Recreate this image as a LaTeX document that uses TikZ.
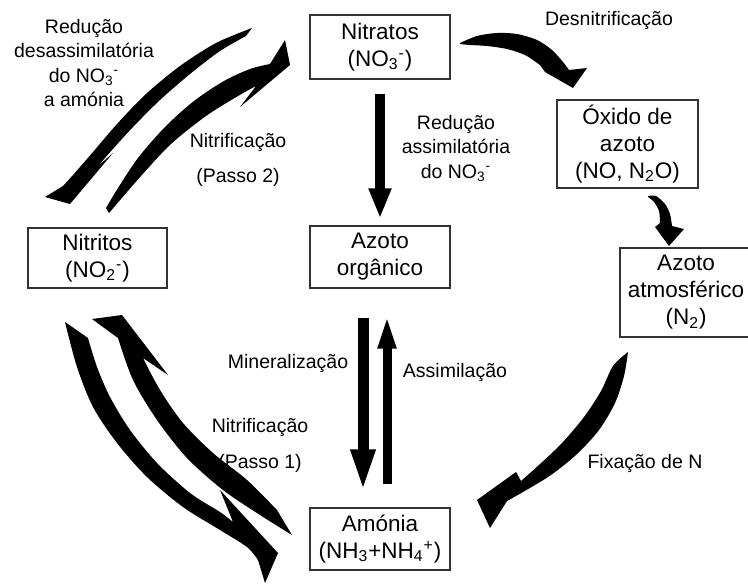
\documentclass[tikz,border=0pt]{standalone}
\usepackage{fontspec}
\setmainfont{Liberation Sans}
\usetikzlibrary{arrows.meta}
\newcommand{\chemsub}[1]{\textsubscript{#1}}
\newcommand{\chemsup}[1]{\textsuperscript{#1}}
\tikzset{
  box/.style={draw=black!80, line width=0.6pt, align=center, inner sep=0pt,
    minimum width=70pt, minimum height=31pt, font=\fontsize{11.25}{13.5}\selectfont},
  lab/.style={align=center, font=\fontsize{9.75}{12.25}\selectfont},
  fat/.style={line width=5pt, -{Triangle[width=10.5pt,length=15pt]}},
  band/.style={fill=black},
}

\begin{document}
\begin{tikzpicture}[x=0.5pt,y=-0.5pt]
  \useasboundingbox (0,0) rectangle (748,584);

  % compartments
  \node[box, minimum height=32pt] (nit) at (380,47) {Nitratos\\(NO\chemsub{3}\chemsup{-})};
  \node[box, minimum width=69.5pt, minimum height=30pt] (ntr) at (97.5,258) {Nitritos\\(NO\chemsub{2}\chemsup{-})};
  \node[box] (org) at (380,257) {Azoto\\orgânico};
  \node[box, minimum width=70.5pt, minimum height=44pt] (oxi) at (627.5,144) {Óxido de\\azoto\\(NO, N\chemsub{2}O)};
  \node[box, minimum width=66pt, minimum height=44.5pt] (atm) at (686,292.5) {Azoto\\atmosférico\\(N\chemsub{2})};
  \node[box] (amo) at (380,539) {Amónia\\(NH\chemsub{3}+NH\chemsub{4}\chemsup{+})};

  % labels
  \node[lab] (desn) at (609,20) {Desnitrificação};
  \node[lab] (redas) at (456,148) {Redução\\assimilatória\\do NO\chemsub{3}\chemsup{-}};
  \node[lab] (reddes) at (84,63) {Redução\\desassimilatória\\do NO\chemsub{3}\chemsup{-}\\a amónia};
  \node[lab] (nitr2) at (238,159.5) {Nitrificação\\[5.25pt](Passo 2)};
  \node[lab] (miner) at (288,363) {Mineralização};
  \node[lab] (assim) at (455,372) {Assimilação};
  \node[lab] (nitr1) at (260,445) {Nitrificação\\[5.75pt](Passo 1)};
  \node[lab] (fix) at (645,463) {Fixação de N};

  % straight arrows
  \draw[fat] ([yshift=-7pt]nit.south) -- ([yshift=3.5pt]org.north);
  \draw[line width=5.5pt, -{Triangle[width=11pt,length=21.5pt]}]
    ([xshift=-8.5pt,yshift=-14.5pt]org.south) -- ([xshift=-8.5pt,yshift=7.5pt]amo.north);
  \draw[line width=4.5pt, -{Triangle[width=8pt,length=18pt]}]
    ([xshift=3.5pt,yshift=11.5pt]amo.north) -- ([xshift=3.5pt,yshift=-12pt]org.south);

  % curved arrows
  % desnitrificacao
  \fill[band] plot[smooth] coordinates {(460,43) (477,36) (497,33) (517,34) (537,40) (552,50) (563,62) (569,70)}
    -- (587,68) -- (573,88) -- (545,72)
    -- plot[smooth] coordinates {(540,65) (525,55) (507,49) (487,46) (470,45) (460,44)} -- cycle;
  % oxido -> N2
  \fill[band] plot[smooth] coordinates {(648,196) (656,196) (665,204) (670,214) (672,226)}
    -- (684,229) -- (669,246) -- (655,227)
    -- plot[smooth] coordinates {(660,223) (659,211) (654,202) (648,197)} -- cycle;
  % fixacao
  \fill[band] plot[smooth] coordinates {(628,352) (624,376) (615,403) (599,430) (577,454) (551,475) (523,492) (507,501)}
    -- (490,528) -- (477,500) -- (516,472) -- (521,481)
    -- plot[smooth] coordinates {(521,481) (540,464) (562,443) (584,417) (601,391) (613,366) (628,352)} -- cycle;
  % reducao desassimilatoria
  \fill[band] plot[smooth] coordinates {(252,28) (216,43) (180,66) (146,94) (117,124) (93,152) (73,175) (63,186)}
    -- (45,197) -- (70,204) -- (113,153) -- (98,166)
    -- plot[smooth] coordinates {(98,166) (112,150) (133,127) (160,100) (190,74) (220,51) (246,36)} -- cycle;
  % nitrificacao passo 2
  \fill[band] plot[smooth] coordinates {(109,213) (141,176) (171,144) (206,116) (238,96) (256,86)}
    -- (240,107) -- (290,65) -- (285,40) -- (270,64)
    -- plot[smooth] coordinates {(270,64) (250,69) (224,81) (194,101) (165,127) (138,158) (118,188) (106,208)} -- cycle;
  % nitritos -> amonia
  \fill[band] plot[smooth] coordinates {(65,322) (77,367) (93,407) (117,443) (147,477) (183,507) (220,530) (247,547) (258,560)}
    -- (265,583) -- (278,553) -- (220,490) -- (233,522)
    -- plot[smooth] coordinates {(233,522) (220,512) (190,493) (157,463) (130,430) (110,397) (97,367) (88,338)} -- cycle;
  % nitrificacao passo 1
  \fill[band] plot[smooth] coordinates {(292,535) (260,515) (223,490) (187,458) (157,420) (133,380) (118,338)}
    -- (92,319) -- (122,315) -- (168,375) -- (143,358)
    -- plot[smooth] coordinates {(143,358) (160,390) (183,423) (213,453) (247,480) (277,510)} -- cycle;
\end{tikzpicture}
\end{document}
